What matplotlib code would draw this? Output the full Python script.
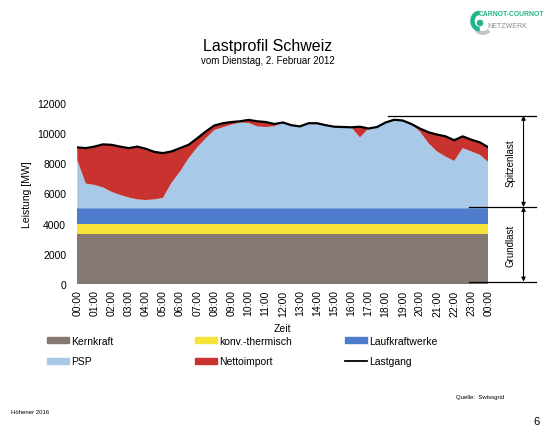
import numpy as np
import matplotlib
matplotlib.use("Agg")
import matplotlib.pyplot as plt
from matplotlib.patches import Patch, Arc, Circle
from matplotlib.lines import Line2D

plt.rcParams['font.family'] = ['Liberation Sans', 'DejaVu Sans']

# half-hour steps, 00:00 to 00:00 next day
hours = np.arange(0, 24.5, 0.5)

kernkraft = [3300] * 49
konv_thermisch = [700] * 49
laufkraftwerke = [1000] * 49

# top of the PSP band (MW)
psp_top = [8200, 6650, 6560, 6400, 6100, 5900, 5730, 5600, 5560, 5600,
           5700, 6700, 7450, 8330, 9050, 9650, 10200, 10380, 10560, 10700,
           10670, 10440, 10400, 10450, 10700, 10520, 10440, 10650, 10650, 10520,
           10420, 10400, 10380, 9710, 10300, 10400, 10700, 10880, 10830, 10600,
           10100, 9330, 8780, 8440, 8150, 9000, 8780, 8560, 8070]

# total load (Lastgang, MW)
lastgang = [9050, 9000, 9100, 9250, 9220, 9100, 9000, 9100, 8960, 8750,
            8670, 8780, 9000, 9220, 9650, 10100, 10500, 10650, 10730, 10780,
            10870, 10780, 10730, 10600, 10700, 10520, 10440, 10650, 10650, 10520,
            10420, 10400, 10380, 10420, 10300, 10400, 10700, 10880, 10830, 10600,
            10300, 10050, 9900, 9780, 9520, 9780, 9560, 9380, 9050]

tick_labels = ["%02d:00" % (h % 24) for h in range(25)]

base = np.array(kernkraft) + np.array(konv_thermisch) + np.array(laufkraftwerke)
psp = np.array(psp_top) - base
nettoimport = np.array(lastgang) - np.array(psp_top)

c_kern = "#857873"
c_konv = "#f5e33a"
c_lauf = "#4d7ccc"
c_psp = "#a9c9e8"
c_netto = "#c8322f"
c_logo = "#1fb58a"

fig = plt.figure(figsize=(5.46, 4.31), dpi=100)
ax = fig.add_axes([0.1415, 0.339, 0.753, 0.42])

ax.stackplot(hours, kernkraft, konv_thermisch, laufkraftwerke, psp, nettoimport,
             colors=[c_kern, c_konv, c_lauf, c_psp, c_netto], linewidth=0)
ax.plot(hours, lastgang, color="black", lw=1.6)

ax.set_xlim(0, 24)
ax.set_ylim(0, 12000)
ax.set_xticks(range(25))
ax.set_xticklabels(tick_labels, rotation=90, fontsize=7.5)
ax.set_yticks(range(0, 12001, 2000))
ax.tick_params(axis="y", labelsize=7.5, length=0, pad=8)
ax.tick_params(axis="x", length=0, pad=4)
for s in ax.spines.values():
    s.set_visible(False)
ax.set_ylabel("Leistung [MW]", fontsize=7.5, labelpad=4)
ax.set_xlabel("Zeit", fontsize=7.5, labelpad=5)

# Spitzenlast / Grundlast markers
kw = dict(color="black", lw=0.9, clip_on=False)
ax.plot([18.15, 26.8], [11150, 11150], **kw)
ax.plot([22.85, 26.8], [5100, 5100], **kw)
ax.plot([22.85, 26.8], [150, 150], **kw)
for y0, y1 in [(11150, 5100), (5100, 150)]:
    ax.annotate("", xy=(26.05, y1), xytext=(26.05, y0),
                arrowprops=dict(arrowstyle="<|-|>", color="black", lw=0.8,
                                mutation_scale=6, shrinkA=0, shrinkB=0),
                annotation_clip=False)
ax.text(25.3, 8100, "Spitzenlast", rotation=90, ha="center", va="center", fontsize=7)
ax.text(25.3, 2600, "Grundlast", rotation=90, ha="center", va="center", fontsize=7)

# legend, one block per column
handles = [Patch(color=c_kern), Patch(color=c_psp),
           Patch(color=c_konv), Patch(color=c_netto),
           Patch(color=c_lauf), Line2D([], [], color="black", lw=1.3)]
labels = ["Kernkraft", "PSP", "konv.-thermisch", "Nettoimport", "Laufkraftwerke", "Lastgang"]
for i, x0 in enumerate([47, 195, 345]):
    fig.legend(handles[2 * i:2 * i + 2], labels[2 * i:2 * i + 2],
               loc="upper left", bbox_to_anchor=(x0 / 546, 1 - 337 / 431),
               frameon=False, fontsize=7.5, handlelength=2.1, handleheight=0.5,
               handletextpad=0.2, labelspacing=1.0, borderpad=0, borderaxespad=0)

fig.text(0.49, 0.891, "Lastprofil Schweiz", ha="center", va="center", fontsize=11.5)
fig.text(0.49, 0.859, "vom Dienstag, 2. Februar 2012", ha="center", va="center", fontsize=7)

# logo
fig.text(479 / 546, 1 - 15 / 431, "CARNOT-COURNOT", color=c_logo, fontsize=4.9,
         weight="bold", ha="left", va="center")
fig.text(487 / 546, 1 - 26 / 431, "NETZWERK", color="#8a8a8a", fontsize=5.0,
         ha="left", va="center")
fig.patches.append(Arc((483, 431 - 28), 15, 12, theta1=200, theta2=330,
                       color="#c4c4c4", lw=2.8, transform=None))
fig.patches.append(Arc((479, 431 - 22), 13, 16, theta1=85, theta2=275,
                       color=c_logo, lw=3.2, transform=None))
fig.patches.append(Circle((480, 431 - 24), 2.6, color=c_logo, transform=None))

fig.text(0.835, 0.077, "Quelle:  Swissgrid", fontsize=4.3, ha="left", va="center")
fig.text(0.02, 0.042, "Höhener 2016", fontsize=4.3, ha="left", va="center")
fig.text(0.988, 0.01, "6", fontsize=8, ha="right", va="bottom")

fig.savefig("out.png", dpi=100)
